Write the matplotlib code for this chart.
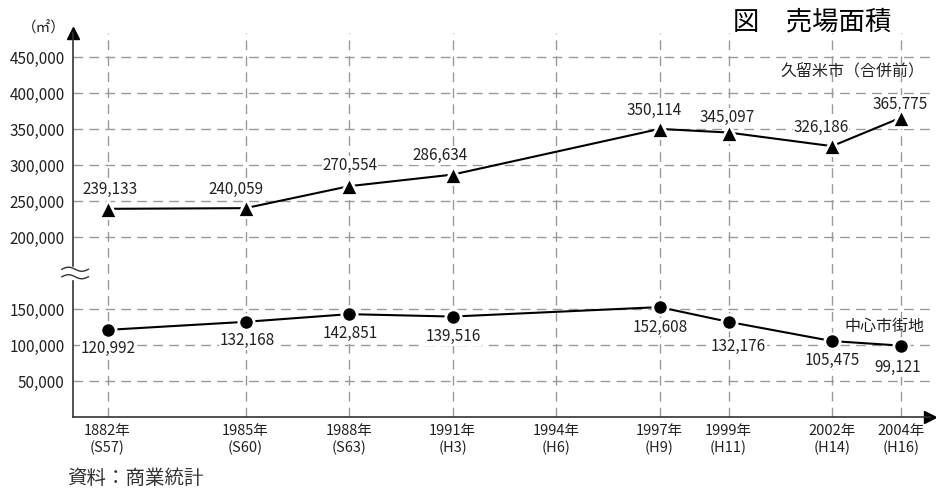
# -*- coding: utf-8 -*-
import numpy as np
import matplotlib
matplotlib.use('Agg')
import matplotlib.pyplot as plt
import matplotlib.transforms as mtransforms
from matplotlib.ticker import FixedLocator, FuncFormatter

plt.rcParams['font.family'] = ['Noto Sans CJK JP', 'DejaVu Sans']
plt.rcParams['lines.scale_dashes'] = False

# -- data ------------------------------------------------------------
years = [1982, 1985, 1988, 1991, 1994, 1997, 1999, 2002, 2004]
year_labels = ['1882年\n(S57)', '1985年\n(S60)', '1988年\n(S63)', '1991年\n(H3)',
               '1994年\n(H6)', '1997年\n(H9)', '1999年\n(H11)', '2002年\n(H14)',
               '2004年\n(H16)']

city_years = [1982, 1985, 1988, 1991, 1997, 1999, 2002, 2004]
city_area = [239133, 240059, 270554, 286634, 350114, 345097, 326186, 365775]

center_years = [1982, 1985, 1988, 1991, 1997, 1999, 2002, 2004]
center_area = [120992, 132168, 142851, 139516, 152608, 132176, 105475, 99121]

yticks = [50000, 100000, 150000, 200000, 250000, 300000, 350000, 400000, 450000]

# label nudges (pixels)
city_dx = [2, -10, 1, -12, -5, -1, -11, -1]
city_dy = [19, 19, 21, 19, 18, 15, 19, 13]
center_dx = [1, 2, 1, 1, 1, 10, 0, -3]
center_dy = [-19, -19, -19, -20, -20, -25, -19, -22]

# -- broken axes via function scales ---------------------------------
y_cut, y_gap = 175000, 50000


def y_fwd(y):
    y = np.asarray(y, dtype=float)
    return np.where(y > y_cut, y + y_gap, y)


def y_inv(d):
    d = np.asarray(d, dtype=float)
    return np.where(d > y_cut + y_gap, d - y_gap, np.minimum(d, y_cut))


x_ref, x_stretch = 1985, 4.0 / 3.0


def x_fwd(x):
    x = np.asarray(x, dtype=float)
    return np.where(x < x_ref, x_ref - (x_ref - x) * x_stretch, x)


def x_inv(d):
    d = np.asarray(d, dtype=float)
    return np.where(d < x_ref, x_ref - (x_ref - d) / x_stretch, d)


fig = plt.figure(figsize=(9.36, 4.91), dpi=100)
ax = fig.add_axes([73 / 936, 74 / 491, 857 / 936, 384 / 491])
ax.set_xscale('function', functions=(x_fwd, x_inv))
ax.set_yscale('function', functions=(y_fwd, y_inv))

ax.set_xlim(1981.25, 2004.84)
ax.set_ylim(0, 483333)

text_c = '#222222'

ax.plot(city_years, city_area, '-^', color='black', lw=1.5, ms=12.5,
        mfc='black', mec='white', mew=2, zorder=4, clip_on=False)
ax.plot(center_years, center_area, '-o', color='black', lw=1.5, ms=11,
        mfc='black', mec='white', mew=2, zorder=4, clip_on=False)

for x, y, dx, dy in zip(city_years, city_area, city_dx, city_dy):
    ax.annotate(f'{y:,}', (x, y), xytext=(dx, dy), textcoords='offset pixels',
                ha='center', va='center', fontsize=11, color=text_c, zorder=3,
                bbox=dict(facecolor='white', edgecolor='none', pad=0.5))
for x, y, dx, dy in zip(center_years, center_area, center_dx, center_dy):
    ax.annotate(f'{y:,}', (x, y), xytext=(dx, dy), textcoords='offset pixels',
                ha='center', va='center', fontsize=11, color=text_c, zorder=3,
                bbox=dict(facecolor='white', edgecolor='none', pad=0.5))

# axes styling
ax.xaxis.set_major_locator(FixedLocator(years))
ax.set_xticklabels(year_labels, fontsize=10.5, color=text_c, linespacing=1.2)
ax.yaxis.set_major_locator(FixedLocator(yticks))
ax.yaxis.set_major_formatter(FuncFormatter(lambda v, p: f'{int(round(v)):,}'))
ax.xaxis.set_minor_locator(FixedLocator([]))
ax.yaxis.set_minor_locator(FixedLocator([]))
ax.tick_params(axis='both', length=0, colors=text_c)
ax.tick_params(axis='y', labelsize=11, pad=6)
ax.tick_params(axis='x', pad=5)

ax.grid(True, linestyle=(0, (7, 4.5)), linewidth=1.0, color='#9a9a9a', zorder=0)
ax.set_axisbelow(True)

for s in ['top', 'right']:
    ax.spines[s].set_visible(False)
for s in ['left', 'bottom']:
    ax.spines[s].set_color('#333333')
    ax.spines[s].set_linewidth(1.2)

ax.plot(0, 1, '^', color='black', ms=8, transform=ax.transAxes, clip_on=False)
ax.plot(1, 0, '>', color='black', ms=8, transform=ax.transAxes, clip_on=False)

# break mark on the y axis
brk = mtransforms.blended_transform_factory(ax.transAxes, ax.transLimits + ax.transAxes)
wx = np.linspace(-0.013, 0.018, 40)
wave = 2800 * np.sin(np.linspace(0, 2 * np.pi, 40))
ax.fill_between(wx, y_cut + y_gap / 2 - 8000, y_cut + y_gap / 2 + 8000,
                color='white', transform=brk, clip_on=False, zorder=5)
for off in (-5200, 5200):
    ax.plot(wx, y_cut + y_gap / 2 + off + wave, color='#333333', lw=1.0,
            transform=brk, clip_on=False, zorder=6)

# text
ax.text(0.994, 0.898, '久留米市（合併前）', transform=ax.transAxes, ha='right',
        va='center', fontsize=11.5, color=text_c)
ax.text(0.994, 0.236, '中心市街地', transform=ax.transAxes, ha='right',
        va='center', fontsize=11.5, color=text_c)
fig.text(812 / 936, 1 - 22 / 491, '図　売場面積', ha='center', va='center',
         fontsize=19, color='black')
fig.text(44 / 936, 1 - 28 / 491, '（㎡）', ha='center', va='center',
         fontsize=10.5, color=text_c)
fig.text(67 / 936, 1 - 478 / 491, '資料：商業統計', ha='left', va='center',
         fontsize=14, color='#333333')

fig.savefig('out.png', dpi=100)
